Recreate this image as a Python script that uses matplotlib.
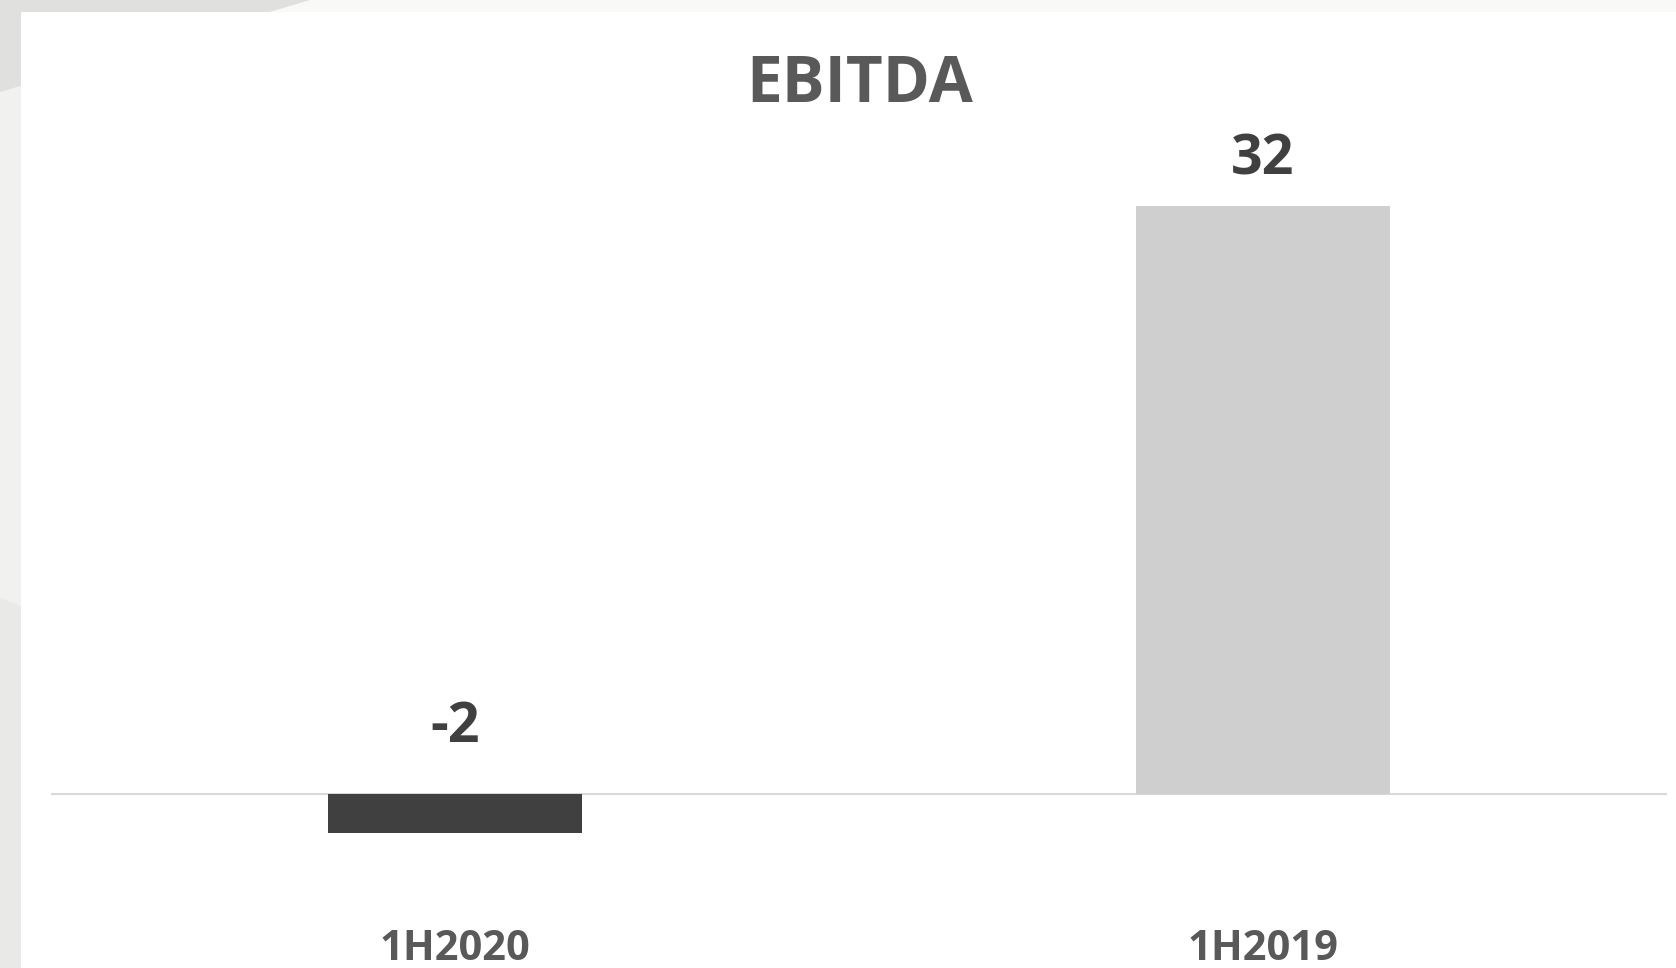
import matplotlib.pyplot as plt
from matplotlib.patches import Rectangle, Polygon
from matplotlib.transforms import blended_transform_factory

# data
periods = ['1H2020', '1H2019']
ebitda = [-2.1, 32.0]
bar_colors = ['#404040', '#d0cfcf']

W, H = 1676, 968
fig = plt.figure(figsize=(W / 100, H / 100), dpi=100)
fig.patch.set_facecolor('#f1f1ef')

# slide background pieces
fig.patches.append(Rectangle((0, 1 - 12 / H), 1, 12 / H, transform=fig.transFigure,
                             facecolor='#f9f9f8', edgecolor='none', zorder=0.5))
fig.patches.append(Polygon([(0, 1), (310 / W, 1), (0, 1 - 92 / H)], closed=True,
                           transform=fig.transFigure, facecolor='#e0e0df', edgecolor='none', zorder=0.6))
fig.patches.append(Polygon([(0, 0), (0, 1 - 598 / H), (21 / W, 1 - 606 / H), (21 / W, 0)], closed=True,
                           transform=fig.transFigure, facecolor='#e9e9e8', edgecolor='none', zorder=0.6))
fig.patches.append(Rectangle((21 / W, 0), 1 - 21 / W, 1 - 12 / H, transform=fig.transFigure,
                             facecolor='white', edgecolor='none', zorder=1))

plt.rcParams['font.family'] = ['Open Sans', 'DejaVu Sans']

ymin, ymax = -4, 34
px_per_unit = 588 / 32
top_px = 794 - ymax * px_per_unit
bot_px = 794 - ymin * px_per_unit
ax = fig.add_axes([51 / W, 1 - bot_px / H, (1667 - 51) / W, (bot_px - top_px) / H])
ax.set_facecolor('none')
ax.set_zorder(2)

x = list(range(len(periods)))
ax.bar(x, ebitda, width=0.314, color=bar_colors, zorder=2)
ax.axhline(0, color='#d9d9d9', linewidth=1.5, zorder=1)
ax.set_xlim(-0.5, 1.5)
ax.set_ylim(ymin, ymax)
ax.axis('off')

# value labels
for i, v in zip(x, ebitda):
    off = 46 if v >= 0 else 66
    ax.annotate('{:.0f}'.format(v), (i, max(v, 0)), xytext=(0, off * 0.72),
                textcoords='offset points', ha='center', va='center',
                fontsize=40, fontweight='bold', color='#404040')

# category labels (sit right at the bottom edge, as on the slide)
trans = blended_transform_factory(ax.transData, fig.transFigure)
for i, p in zip(x, periods):
    ax.text(i, 1 - 949 / H, p, transform=trans, clip_on=False,
            ha='center', va='center', fontsize=30, fontweight='bold', color='#595959')

fig.text(860 / W, 1 - 85 / H, 'EBITDA', ha='center', va='center',
         fontsize=46, fontweight='bold', color='#595959', zorder=3)

fig.savefig('out.png', dpi=100)
